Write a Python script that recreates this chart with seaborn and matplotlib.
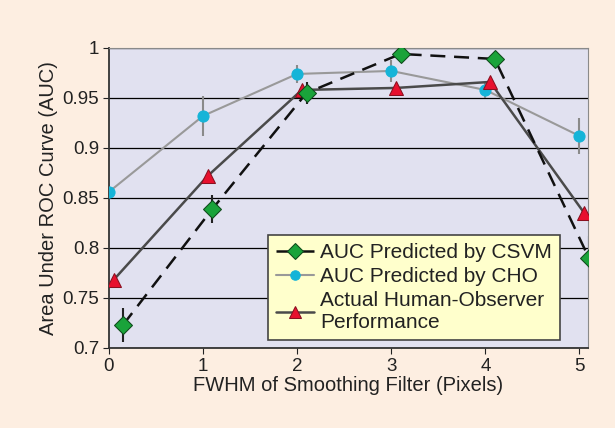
import numpy as np
import pandas as pd
import seaborn as sns
import matplotlib.pyplot as plt

# data
fwhm = [0, 1, 2, 3, 4, 5]
csvm_x = [0.15, 1.1, 2.1, 3.1, 4.1, 5.1]
csvm_auc = [0.723, 0.839, 0.955, 0.994, 0.989, 0.790]
csvm_err = [0.017, 0.014, 0.011, 0.0, 0.0, 0.022]
cho_x = [0, 1, 2, 3, 4, 5]
cho_auc = [0.856, 0.932, 0.974, 0.977, 0.958, 0.912]
cho_err = [0.0, 0.020, 0.009, 0.011, 0.008, 0.018]
human_x = [0.05, 1.05, 2.05, 3.05, 4.05, 5.05]
human_auc = [0.768, 0.872, 0.958, 0.960, 0.966, 0.835]

sns.set_style("white")
plt.rcParams['font.family'] = ['Liberation Sans', 'DejaVu Sans']

fig = plt.figure(figsize=(6.15, 4.28), dpi=100, facecolor="#fdeee1")
ax = fig.add_axes([0.177, 0.187, 0.779, 0.701])
ax.set_facecolor("#e1e1f0")

ax.errorbar(cho_x, cho_auc, yerr=cho_err, fmt="none", ecolor="#8a8a8a", elinewidth=1.5, capsize=0, zorder=2)
ax.errorbar(csvm_x, csvm_auc, yerr=csvm_err, fmt="none", ecolor="#222222", elinewidth=1.5, capsize=0, zorder=2)

sns.lineplot(x=cho_x, y=cho_auc, ax=ax, color="#999999", linewidth=1.5, marker="o",
             markersize=8, markerfacecolor="#15b4d8", markeredgecolor="#15b4d8",
             label="AUC Predicted by CHO", zorder=3)
sns.lineplot(x=human_x, y=human_auc, ax=ax, color="#4a4a4a", linewidth=1.8, marker="^",
             markersize=10, markerfacecolor="#e8102e", markeredgecolor="#8a1020",
             label="Actual Human-Observer\nPerformance", zorder=4)
sns.lineplot(x=csvm_x, y=csvm_auc, ax=ax, color="#111111", linewidth=1.8, marker="D",
             markersize=9, markerfacecolor="#1aa33a", markeredgecolor="#0e4a1a",
             label="AUC Predicted by CSVM", zorder=5)
ax.lines[-1].set_dashes([6, 3.5])

ax.set_xlim(-0.0, 5.09)
ax.set_ylim(0.7, 1.0)
ax.set_xticks(fwhm)
ax.set_yticks([0.7, 0.75, 0.8, 0.85, 0.9, 0.95, 1.0])
ax.set_yticklabels(["0.7", "0.75", "0.8", "0.85", "0.9", "0.95", "1"])
ax.yaxis.grid(True, color="black", linewidth=0.9)
ax.set_axisbelow(True)
ax.tick_params(axis="both", labelsize=13.5, colors="#222222", length=4, direction="out",
               left=True, bottom=True, pad=3)
for s in ["top", "right"]:
    ax.spines[s].set_color("#8a8a8a")
    ax.spines[s].set_linewidth(0.8)
for s in ["left", "bottom"]:
    ax.spines[s].set_color("#333333")
    ax.spines[s].set_linewidth(1.3)
ax.set_xlabel("FWHM of Smoothing Filter (Pixels)", fontsize=14.5, color="#222222", labelpad=1)
ax.set_ylabel("Area Under ROC Curve (AUC)", fontsize=14.5, color="#222222", labelpad=3)

h, l = ax.get_legend_handles_labels()
order = [2, 0, 1]
leg = ax.legend([h[i] for i in order], [l[i] for i in order], loc="lower right",
                bbox_to_anchor=(0.942, 0.027), borderaxespad=0, fontsize=15,
                frameon=True, fancybox=False, facecolor="#ffffcc", edgecolor="#444444",
                framealpha=1, handlelength=1.8, handletextpad=0.3, labelspacing=0.25,
                borderpad=0.4, markerscale=0.85)
leg.get_frame().set_linewidth(1.2)
leg.set_zorder(10)
for t in leg.get_texts():
    t.set_color("#222222")
    t.set_linespacing(1.15)

fig.savefig("out.png", dpi=100, facecolor=fig.get_facecolor())
